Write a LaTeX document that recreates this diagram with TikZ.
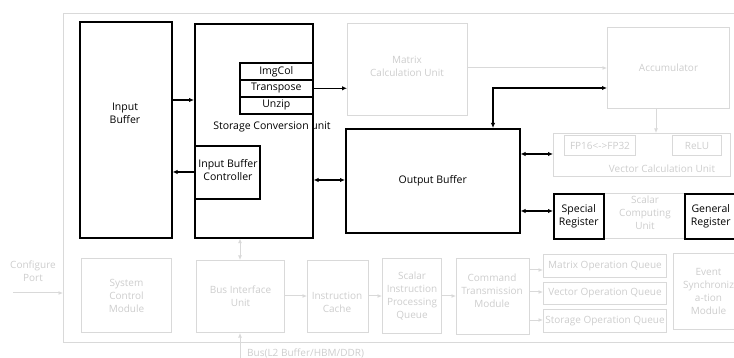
\documentclass[tikz,border=0pt]{standalone}
\usepackage{fontspec}
\setmainfont{Open Sans}
\usetikzlibrary{arrows.meta,calc}
\definecolor{gl}{HTML}{D9D9D9}
\definecolor{gt}{HTML}{CDCDCD}
\begin{document}
\begin{tikzpicture}[x=1pt,y=-1pt,
  font=\fontsize{10}{13}\selectfont,
  bfont/.style={font=\fontsize{10.5}{13}\selectfont},
  bbox/.style={draw=black,line width=1.6pt,inner sep=0pt,anchor=north west,align=center,bfont},
  gbox/.style={draw=gl,line width=1pt,inner sep=0pt,anchor=north west,align=center,text=gt},
  txt/.style={inner sep=0pt,align=center,bfont},
  gtxt/.style={inner sep=0pt,align=center,text=gt},
  barr/.style={line width=1.4pt,-{Latex[length=5pt,width=4.5pt]}},
  bdarr/.style={line width=1.4pt,{Latex[length=5pt,width=4.5pt]}-{Latex[length=5pt,width=4.5pt]}},
  garr/.style={draw=gl,line width=1pt,-{Latex[length=4.5pt,width=4pt]}},
  gdarr/.style={draw=gl,line width=1pt,{Latex[length=4.5pt,width=4pt]}-{Latex[length=4.5pt,width=4pt]}}]
\useasboundingbox (0,0) rectangle (734,358);
\clip (0,0) rectangle (734,358);
% outer frame
\node[gbox,minimum width=720pt,minimum height=329pt] (frame) at (63,13) {};
% top black blocks
\node[bbox,minimum width=92pt,minimum height=216pt] (ib) at (79,21) {};
\node[txt] (ibt) at (125,113) {Input\\Buffer};
\node[bbox,minimum width=118pt,minimum height=214pt] (scu) at (194,23) {};
\node[txt] (scut) at (272,127) {Storage Conversion unit};
\node[bbox,minimum width=73pt,minimum height=17pt] (img) at (239,62) {ImgCol};
\node[bbox,minimum width=73pt,minimum height=17pt] (tr) at (239,79) {Transpose};
\node[bbox,minimum width=73pt,minimum height=17pt] (uz) at (239,96) {Unzip};
\node[bbox,minimum width=65pt,minimum height=53pt] (ibc) at (194,145) {};
\node[txt] (ibct) at (228,170) {Input Buffer\\Controller};
\node[bbox,minimum width=174pt,minimum height=104pt] (ob) at (345,128) {Output Buffer};
% gray top blocks
\node[gbox,minimum width=120pt,minimum height=92pt] (mcu) at (347,23) {};
\node[gtxt] (mcut) at (407,66) {Matrix\\Calculation Unit};
\node[gbox,minimum width=122pt,minimum height=81pt] (acc) at (607,27) {Accumulator};
\node[gbox,minimum width=177pt,minimum height=43pt] (vcu) at (553,133) {};
\node[gbox,minimum width=71pt,minimum height=20pt] (fp) at (564,135) {FP16<->FP32};
\node[gbox,minimum width=49pt,minimum height=20pt] (relu) at (672,135) {ReLU};
\node[gtxt] (vcut) at (662,169) {Vector Calculation Unit};
\node[gbox,minimum width=184pt,minimum height=45pt] (scal) at (553,193) {};
\node[gtxt] (scalt) at (645,213) {Scalar\\Computing\\Unit};
\node[bbox,minimum width=50pt,minimum height=45pt] (spr) at (553,193) {Special\\Register};
\node[bbox,minimum width=52pt,minimum height=45pt] (gr) at (684,193) {General\\Register};
% bottom row
\node[gtxt] (cpt) at (33,271) {Configure\\Port};
\coordinate (cp) at (13,293);
\node[gbox,minimum width=90pt,minimum height=74pt] (scm) at (81,258) {System\\Control\\Module};
\node[gbox,minimum width=88pt,minimum height=72pt] (biu) at (196,260) {Bus Interface\\Unit};
\node[gbox,minimum width=61pt,minimum height=72pt] (ic) at (307,260) {};
\node[gtxt] (ict) at (337,302) {Instruction\\Cache};
\node[gbox,minimum width=59pt,minimum height=75pt] (sipq) at (382,258) {Scalar\\Instruction\\Processing\\Queue};
\node[gbox,minimum width=73pt,minimum height=76pt] (ctm) at (456,258) {};
\node[gtxt] (ctmt) at (492,291) {Command\\Transmission\\Module};
\node[gbox,minimum width=123pt,minimum height=23pt] (moq) at (543,254) {Matrix Operation Queue};
\node[gbox,minimum width=123pt,minimum height=22pt] (voq) at (543,282) {Vector Operation Queue};
\node[gbox,minimum width=123pt,minimum height=23pt] (soq) at (543,309) {Storage Operation Queue};
\node[gbox,minimum width=70pt,minimum height=76pt] (esm) at (673,253) {Event\\Synchroniz\\a-tion\\Module};
\coordinate (busend) at (240,358);
\node[gtxt,anchor=west] (bust) at (247,353) {Bus(L2 Buffer/HBM/DDR)};
% black connectors
\draw[barr] (ib.east |- 0,100) -- (scu.west |- 0,100);
\draw[barr] (ibc.west |- 0,172) -- (ib.east |- 0,172);
\draw[barr] (tr.east) -- (mcu.west |- tr.east);
\draw[bdarr] (scu.east |- 0,180) -- (ob.west |- 0,180);
\draw[bdarr] (ob.north -| 493,0) |- (acc.west |- 0,88);
\draw[bdarr] (ob.east |- 0,154) -- (vcu.west |- 0,154);
\draw[bdarr] (ob.east |- 0,211) -- (spr.west |- 0,211);
% gray connectors
\draw[garr] (mcu.east |- 0,68) -- (acc.west |- 0,68);
\draw[garr] (acc.south -| 656,0) -- (vcu.north -| 656,0);
\draw[garr] (cp) -- (frame.west |- cp);
\draw[gdarr] (scu.south -| 240,0) -- (biu.north -| 240,0);
\draw[garr] (busend) -- (biu.south -| busend);
\draw[garr] (biu.east |- 0,296) -- (ic.west |- 0,296);
\draw[garr] (ic.east |- 0,296) -- (sipq.west |- 0,296);
\draw[garr] (sipq.east |- 0,296) -- (ctm.west |- 0,296);
\draw[garr] (ctm.east |- 0,270) -- (moq.west |- 0,270);
\draw[garr] (ctm.east |- 0,292) -- (voq.west |- 0,292);
\draw[garr] (ctm.east |- 0,320) -- (soq.west |- 0,320);
\end{tikzpicture}
\end{document}
